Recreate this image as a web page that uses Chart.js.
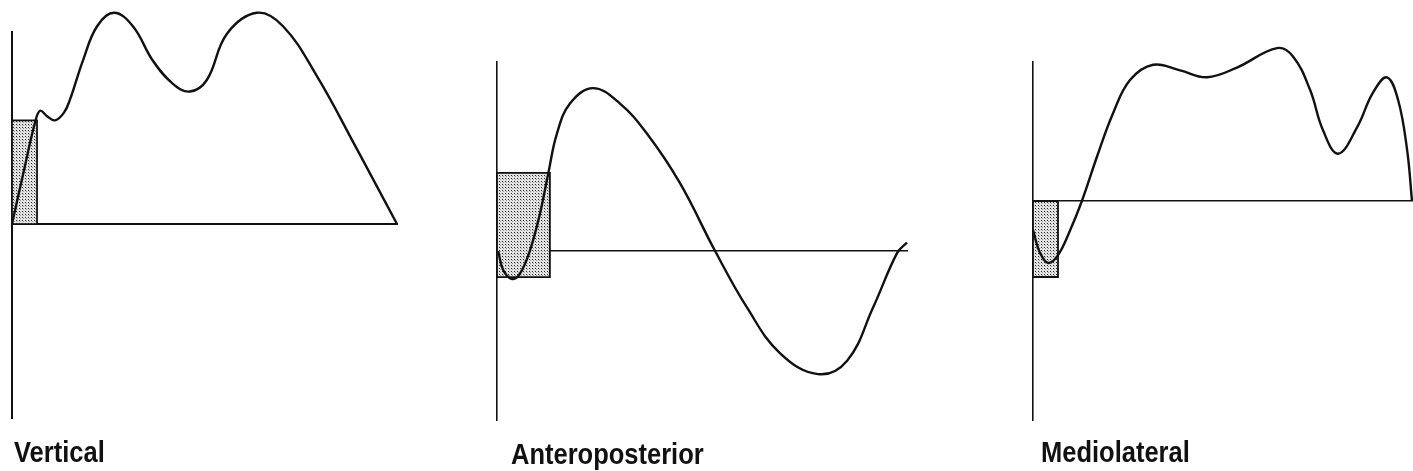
<!DOCTYPE html>
<html>
<head>
<meta charset="utf-8">
<script src="https://cdn.jsdelivr.net/npm/chart.js@4/dist/chart.umd.min.js"></script>
<style>
  html, body { margin: 0; padding: 0; background: #fff; overflow: hidden; }
  #wrap { position: relative; width: 1413px; height: 471px; }
  canvas { position: absolute; top: 0; }
  .lbl {
    position: absolute;
    font-family: "Liberation Sans", Arial, sans-serif;
    font-weight: bold;
    font-size: 30px;
    line-height: 30px;
    color: #111;
    white-space: nowrap;
    transform: scaleX(0.85);
    transform-origin: left top;
  }
</style>
</head>
<body>
<div id="wrap">
  <canvas id="graficoVertical" width="420" height="471" style="left:0px"></canvas>
  <canvas id="graficoAP" width="440" height="471" style="left:480px"></canvas>
  <canvas id="graficoML" width="400" height="471" style="left:1013px"></canvas>
  <div class="lbl" style="left:14px; top:437px">Vertical</div>
  <div class="lbl" style="left:511px; top:439px">Anteroposterior</div>
  <div class="lbl" style="left:1041px; top:437px">Mediolateral</div>
</div>
<script>
// % of stance phase vs force (arbitrary units, 0 = baseline)
const vertX = [0, 3, 6.0, 7.3, 9.2, 11.2, 13.5, 15.1, 18.4, 22.1, 26.5, 31.4, 36.6, 41.8, 46.2, 50.6, 55.8, 63.6, 70.4, 79.2, 89.6, 100];
const vertY = [0, 0.27, 0.53, 0.59, 0.56, 0.54, 0.58, 0.65, 0.85, 1.03, 1.10, 1.03, 0.85, 0.73, 0.69, 0.75, 0.99, 1.10, 1.03, 0.77, 0.39, 0];

const apX = [0.3, 1.5, 3.7, 5.6, 8.0, 10.5, 12.5, 14.6, 17.8, 23.4, 30.0, 36.6, 44.6, 53.2, 61.0, 69.0, 78.3, 85.4, 91.7, 97.6, 100];
const apY = [0, -0.10, -0.148, -0.12, 0.0, 0.20, 0.41, 0.62, 0.78, 0.862, 0.78, 0.62, 0.36, 0.0, -0.30, -0.54, -0.651, -0.58, -0.30, -0.01, 0.045];

const mlX = [0, 1.8, 4.0, 6.6, 9.8, 12.9, 16.9, 21.1, 25.6, 31.7, 38.8, 45.9, 53.8, 64.4, 68.6, 73.1, 76.5, 80.5, 85.5, 89.7, 93.4, 96.3, 98.7, 100];
const mlY = [-0.21, -0.37, -0.446, -0.39, -0.21, 0, 0.32, 0.63, 0.87, 0.98, 0.94, 0.89, 0.96, 1.10, 1.04, 0.80, 0.51, 0.34, 0.53, 0.78, 0.89, 0.73, 0.37, 0];

// loading window: [x start, x end, y low, y high]
const vertWindow = [0, 6.5, 0, 0.54];
const apWindow = [0, 12.9, -0.138, 0.413];
const mlWindow = [0, 6.6, -0.547, 0];

// stipple fill for the loading window
const dots = document.createElement('canvas');
dots.width = 3; dots.height = 3;
const dctx = dots.getContext('2d');
dctx.fillStyle = '#e4e4e4';
dctx.fillRect(0, 0, 3, 3);
dctx.fillStyle = '#222';
dctx.fillRect(1, 1, 1, 1);
dctx.fillStyle = '#999';
dctx.fillRect(2, 2, 1, 1);
const stipple = dctx.createPattern(dots, 'repeat');

const toPoints = (xs, ys) => xs.map((x, i) => ({x: x, y: ys[i]}));

const panel = (id, xs, ys, win, yMin, yMax, pad, axisW) => {
    const [x0, x1, lo, hi] = win;
    new Chart(document.getElementById(id), {
        type: 'line',
        data: {
            datasets: [
                {   // force curve
                    data: toPoints(xs, ys),
                    borderColor: '#111',
                    borderWidth: 2.4,
                    pointRadius: 0,
                    tension: 0.4,
                    fill: false,
                    clip: false
                },
                {   // window outline
                    data: [{x: x0, y: lo}, {x: x0, y: hi}, {x: x1, y: hi}, {x: x1, y: lo}, {x: x0, y: lo}],
                    borderColor: '#111',
                    borderWidth: 1.8,
                    pointRadius: 0,
                    tension: 0,
                    fill: false
                },
                {   // window shading
                    data: [{x: x0, y: hi}, {x: x1, y: hi}],
                    borderWidth: 0,
                    pointRadius: 0,
                    backgroundColor: stipple,
                    fill: {value: lo}
                }
            ]
        },
        options: {
            responsive: false,
            animation: false,
            events: [],
            layout: {padding: pad, autoPadding: false},
            plugins: {legend: {display: false}, tooltip: {enabled: false}},
            scales: {
                x: {
                    type: 'linear', min: 0, max: 100,
                    position: {y: 0},
                    grid: {display: false, drawTicks: false},
                    ticks: {display: false},
                    border: {display: true, color: '#111', width: axisW}
                },
                y: {
                    type: 'linear', min: yMin, max: yMax,
                    grid: {display: false, drawTicks: false},
                    ticks: {display: false},
                    border: {display: true, color: '#111', width: axisW}
                }
            }
        }
    });
};

panel('graficoVertical', vertX, vertY, vertWindow, -1.01, 1.0, {left: 12, right: 23, top: 32, bottom: 53}, 2);
panel('graficoAP', apX, apY, apWindow, -0.894, 1.0, {left: 17, right: 13, top: 62, bottom: 51}, 1.6);
panel('graficoML', mlX, mlY, mlWindow, -1.576, 1.0, {left: 20, right: 1, top: 62, bottom: 51}, 1.6);
</script>
</body>
</html>
